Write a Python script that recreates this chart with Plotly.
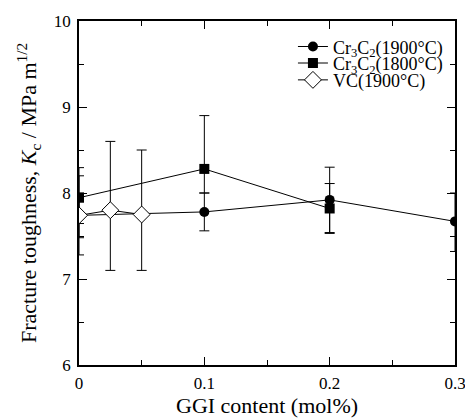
import plotly.graph_objects as go

# Cr3C2 (1900 C)
x_cr1900 = [0, 0.1, 0.2, 0.3]
y_cr1900 = [7.74, 7.78, 7.92, 7.67]
ep_cr1900 = [0.26, 0.22, 0.38, 0.33]
em_cr1900 = [0.26, 0.22, 0.38, 0.35]

# Cr3C2 (1800 C)
x_cr1800 = [0, 0.1, 0.2]
y_cr1800 = [7.945, 8.28, 7.82]
ep_cr1800 = [0.35, 0.62, 0.29]
em_cr1800 = [0.30, 0.28, 0.29]

# VC (1900 C)
x_vc = [0, 0.025, 0.05]
y_vc = [7.74, 7.80, 7.75]
ep_vc = [0.46, 0.80, 0.75]
em_vc = [0.46, 0.70, 0.65]

names = ["Cr<sub>3</sub>C<sub>2</sub>(1900°C)", "Cr<sub>3</sub>C<sub>2</sub>(1800°C)", "VC(1900°C)"]
x_tickvals = [0, 0.1, 0.2, 0.3]
x_ticktext = ["0", "0.1", "0.2", "0.3"]
y_tickvals = [6, 7, 8, 9, 10]
y_ticktext = ["6", "7", "8", "9", "10"]
x_title = "GGI content (mol%)"
y_title = "Fracture toughness, <i>K</i><sub>c</sub> / MPa m<sup>1/2</sup>"

FONT = "Liberation Serif, Times New Roman, serif"

fig = go.Figure()

def err(p, m):
    return dict(type="data", symmetric=False, array=p, arrayminus=m,
                color="black", thickness=1, width=5)

fig.add_trace(go.Scatter(x=x_cr1900, y=y_cr1900, name=names[0], mode="lines+markers",
                         line=dict(color="black", width=1), legend="legend",
                         marker=dict(symbol="circle", size=10, color="black"),
                         error_y=err(ep_cr1900, em_cr1900)))
fig.add_trace(go.Scatter(x=x_cr1800, y=y_cr1800, name=names[1], mode="lines+markers",
                         line=dict(color="black", width=1), legend="legend2",
                         marker=dict(symbol="square", size=10, color="black"),
                         error_y=err(ep_cr1800, em_cr1800)))
fig.add_trace(go.Scatter(x=x_vc, y=y_vc, name=names[2], mode="lines+markers",
                         line=dict(color="black", width=1), legend="legend3",
                         marker=dict(symbol="diamond", size=13, color="white",
                                     line=dict(color="black", width=1)),
                         error_y=err(ep_vc, em_vc)))

axis_common = dict(showgrid=False, zeroline=False, showline=True, linecolor="black",
                   linewidth=1.5, mirror="ticks", ticks="inside", ticklen=8,
                   tickwidth=1, tickcolor="black", automargin=False,
                   ticklabeloverflow="allow",
                   tickfont=dict(family=FONT, size=17, color="black"))

fig.update_xaxes(range=[0, 0.3], tickmode="array", tickvals=x_tickvals, ticktext=x_ticktext,
                 ticklabelstandoff=2,
                 minor=dict(ticks="inside", ticklen=5, dtick=0.05, tick0=0, tickcolor="black"),
                 **axis_common)
fig.update_yaxes(range=[6, 10], tickmode="array", tickvals=y_tickvals, ticktext=y_ticktext,
                 ticklabelstandoff=3,
                 minor=dict(ticks="inside", ticklen=5, dtick=0.5, tick0=6, tickcolor="black"),
                 **axis_common)

fig.add_annotation(text=x_title, xref="paper", yref="paper", x=0.5, y=0,
                   xanchor="center", yanchor="middle", yshift=-40, showarrow=False,
                   font=dict(family=FONT, size=22, color="black"))
fig.add_annotation(text=y_title, xref="paper", yref="paper", x=0, y=0.5,
                   xanchor="center", yanchor="middle", xshift=-51, textangle=-90,
                   showarrow=False, font=dict(family=FONT, size=22, color="black"))

leg_common = dict(x=0.569, xanchor="left", yanchor="middle", bgcolor="rgba(0,0,0,0)",
                  font=dict(family=FONT, size=18, color="black"), itemwidth=30)

fig.update_layout(width=465, height=419,
                  margin=dict(l=79, r=10, t=21, b=54),
                  paper_bgcolor="white", plot_bgcolor="white",
                  font=dict(family=FONT, size=17, color="black"),
                  showlegend=True,
                  legend=dict(y=0.925, **leg_common),
                  legend2=dict(y=0.877, **leg_common),
                  legend3=dict(y=0.828, **leg_common))

fig.write_html("out.html", config={"displayModeBar": False},
               post_script="document.body.style.margin='0';document.body.style.overflow='hidden';")
